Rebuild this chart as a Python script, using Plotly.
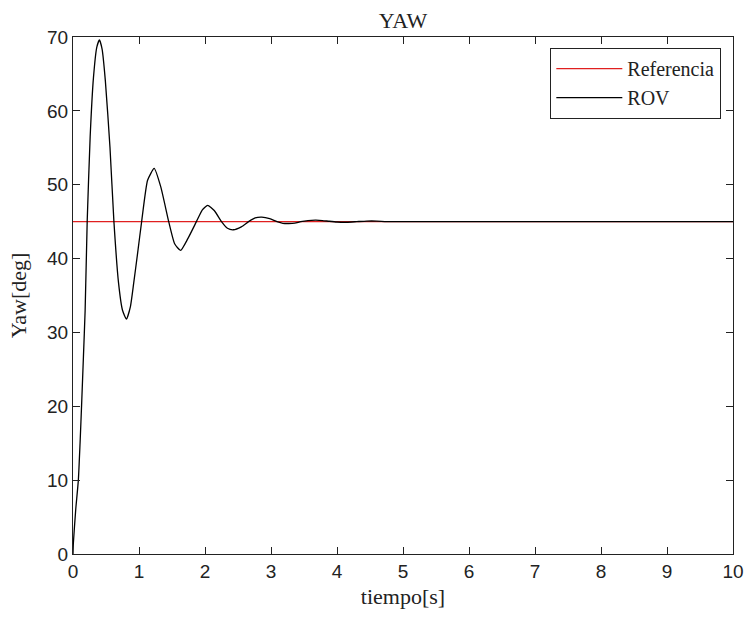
import plotly.graph_objects as go

# Time (s) and yaw (deg)
t_rov = [0.0, 0.005, 0.041, 0.081, 0.107, 0.133, 0.158, 0.184, 0.215, 0.26, 0.31, 0.36, 0.40,
         0.44, 0.49, 0.56, 0.62, 0.69, 0.75, 0.81, 0.87, 0.92, 0.98, 1.04, 1.13, 1.23,
         1.33, 1.45, 1.54, 1.63, 1.74, 1.87, 1.96, 2.04, 2.14, 2.25, 2.34, 2.43, 2.55,
         2.66, 2.76, 2.86, 2.98, 3.09, 3.18, 3.27, 3.36, 3.45, 3.56, 3.68, 3.78, 3.88,
         4.0, 4.15, 4.3, 4.45, 4.6, 4.75, 5.0, 6.0, 7.0, 8.0, 9.0, 10.0]
yaw_rov = [0.0, 1.4, 6.0, 10.0, 15.0, 20.8, 26.7, 33.0, 45.0, 56.5, 64.5, 68.6, 69.6,
           68.4, 64.1, 55.1, 45.0, 36.7, 33.0, 31.8, 33.5, 36.7, 40.8, 45.0, 50.6, 52.2,
           49.7, 45.0, 42.0, 41.1, 42.7, 45.0, 46.6, 47.2, 46.5, 45.0, 44.1, 43.9, 44.3,
           45.0, 45.5, 45.6, 45.4, 45.0, 44.78, 44.75, 44.8, 45.0, 45.15, 45.2, 45.15, 45.05,
           44.95, 44.92, 45.0, 45.08, 45.08, 45.0, 45.0, 45.0, 45.0, 45.0, 45.0, 45.0]

t_ref = [0.0, 10.0]
yaw_ref = [45.0, 45.0]

x_ticks = list(range(0, 11))
y_ticks = list(range(0, 71, 10))

serif = "Liberation Serif, Times New Roman, serif"
sans = "Liberation Sans, Arial, sans-serif"

fig = go.Figure()
fig.add_trace(go.Scatter(x=t_ref, y=yaw_ref, mode="lines", name="Referencia",
                         line=dict(color="#e02020", width=1.3)))
fig.add_trace(go.Scatter(x=t_rov, y=yaw_rov, mode="lines", name="ROV",
                         line=dict(color="black", width=1.3, shape="spline", smoothing=0.5)))

axis_common = dict(showgrid=False, zeroline=False, showline=True, linecolor="#222",
                   linewidth=1.2, mirror="allticks", ticks="inside", ticklen=7,
                   tickcolor="#222", automargin=False,
                   tickfont=dict(family=sans, size=19, color="#222"))

fig.update_layout(
    width=745, height=618,
    margin=dict(l=73, r=12, t=37, b=64),
    paper_bgcolor="white", plot_bgcolor="white",
    title=dict(text="YAW", x=(403 / 745), xanchor="center", y=1 - 20 / 618, yanchor="middle",
               font=dict(family=serif, size=22, color="#222")),
    xaxis=dict(range=[0, 10], tickvals=x_ticks, **axis_common,
               title=dict(text="tiempo[s]", font=dict(family=serif, size=22, color="#222"), standoff=7)),
    yaxis=dict(range=[0, 70], tickvals=y_ticks, **axis_common,
               title=dict(text="Yaw[deg]", font=dict(family=serif, size=22, color="#222"), standoff=14)),
    legend=dict(x=0.982, y=0.979, xanchor="right", yanchor="top",
                bgcolor="white", bordercolor="#222", borderwidth=1.2,
                font=dict(family=serif, size=20, color="#222"),
                tracegroupgap=0, itemwidth=66),
    showlegend=True,
)

fig.write_html("out.html")
